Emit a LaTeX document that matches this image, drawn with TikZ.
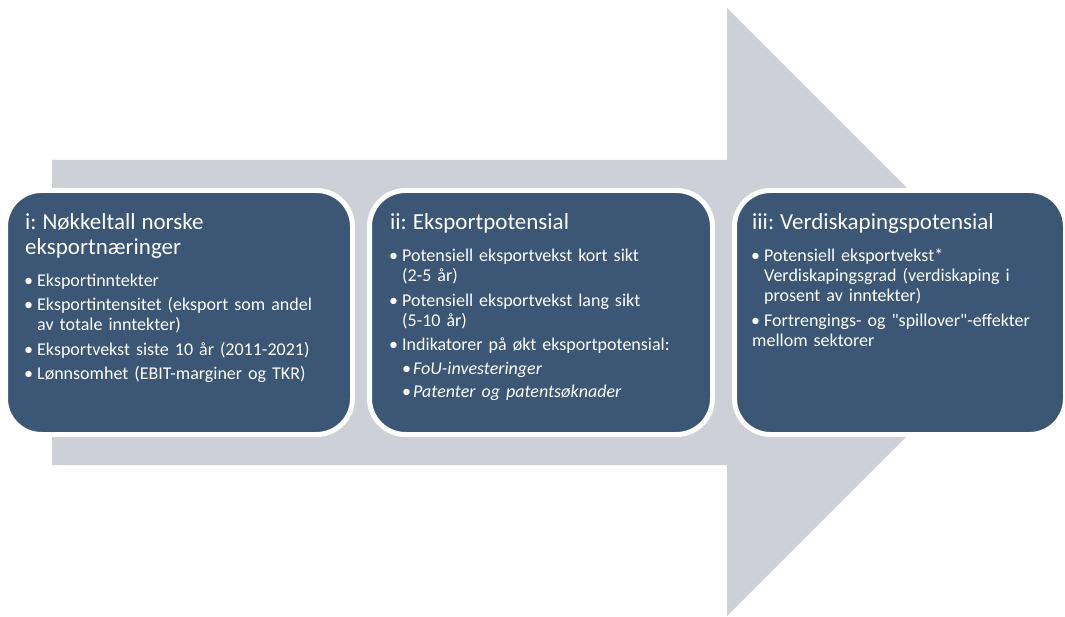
\documentclass[tikz,border=0pt]{standalone}
\usepackage{fontspec}
\setmainfont{Carlito}[Ligatures=TeXOff]
\usetikzlibrary{positioning}

\definecolor{arrowgray}{HTML}{CDD0D6}
\definecolor{panelblue}{HTML}{3B5775}

% bullet lines inside the panels
\newcommand{\itm}[1]{\par\vspace{4.5pt}\hangindent=12pt\hangafter=1\noindent\makebox[12pt][l]{\hspace{-1pt}\textbullet}#1}
\newcommand{\subitm}[1]{\par\vspace{3.5pt}\hangindent=23pt\hangafter=1\noindent\hspace*{13pt}\makebox[10pt][l]{\hspace{-1pt}\textbullet}\textit{#1}}
\newcommand{\paneltitle}[1]{{\fontsize{23}{24.5}\selectfont #1\par}\vspace{7.5pt}}

\begin{document}
\frenchspacing
\begin{tikzpicture}
[
  x=1pt, y=-1pt,
  panel/.style={rectangle, rounded corners=36pt, fill=panelblue, draw=white, line width=5pt},
  paneltext/.style={anchor=base west, inner sep=0pt, text width=330pt, align=left,
    text=white, font=\fontsize{18}{20}\selectfont},
]
 \useasboundingbox (0,0) rectangle (1065,617);

 % the big arrow behind the panels
 \fill[arrowgray] (52,160) -- (727,160) -- (727,8) -- (1031,312) -- (727,616)
   -- (727,465) -- (52,465) -- cycle;

 \node[panel, minimum width=347pt, minimum height=244pt] (b1) at (179,312.5) {};
 \node[panel, minimum width=343pt, minimum height=244pt] (b2) at (541,312.5) {};
 \node[panel, minimum width=331pt, minimum height=244pt] (b3) at (900,312.5) {};

 \node[paneltext] (t1) at (25,230) {%
   \paneltitle{i: Nøkkeltall norske\newline eksportnæringer}%
   \itm{Eksportinntekter}%
   \itm{Eksportintensitet (eksport som andel\newline av totale inntekter)}%
   \itm{Eksportvekst siste 10 år (2011-2021)}%
   \itm{Lønnsomhet (EBIT-marginer og TKR)}};

 \node[paneltext] (t2) at (390,230) {%
   \paneltitle{ii: Eksportpotensial}%
   \itm{Potensiell eksportvekst kort sikt\newline (2-5 år)}%
   \itm{Potensiell eksportvekst lang sikt\newline (5-10 år)}%
   \itm{Indikatorer på økt eksportpotensial:}%
   \subitm{FoU-investeringer}%
   \subitm{Patenter og patentsøknader}};

 \node[paneltext] (t3) at (752,230) {%
   \paneltitle{iii: Verdiskapingspotensial}%
   \itm{Potensiell eksportvekst*\newline Verdiskapingsgrad (verdiskaping i\newline prosent av inntekter)}%
   \itm{Fortrengings- og "spillover"-effekter\newline mellom sektorer}};
\end{tikzpicture}
\end{document}
